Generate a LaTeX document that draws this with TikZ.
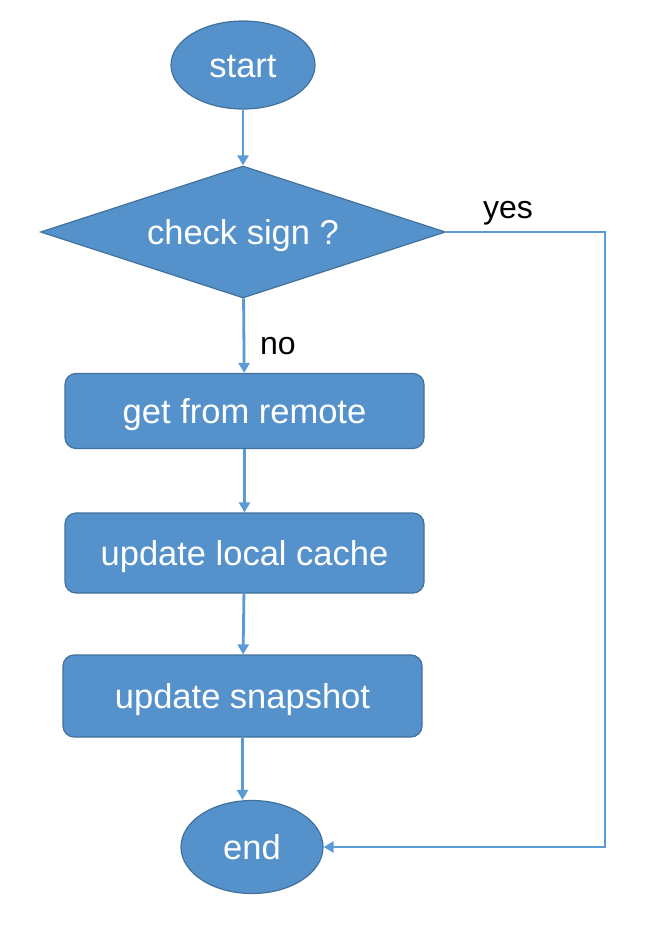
\documentclass[tikz,border=0pt]{standalone}
\usepackage{fontspec}
\setmainfont{Liberation Sans}
\usetikzlibrary{shapes.geometric,arrows.meta}
\definecolor{boxfill}{HTML}{5592CC}
\definecolor{boxline}{HTML}{41719C}
\definecolor{arrowc}{HTML}{5B9BD5}
\tikzset{
  base/.style={fill=boxfill, draw=boxline, line width=1.2pt, text=white, font=\fontsize{34.5}{37}\selectfont, inner sep=0pt, text height=25pt, text depth=0pt},
  oval/.style={base, ellipse},
  decide/.style={base, diamond, aspect=3.07},
  stepbox/.style={base, rectangle, rounded corners=11pt, minimum width=359pt},
  conn/.style={draw=arrowc, line width=2.8pt, -{Triangle[length=10pt,width=11pt]}},
  lbl/.style={text=black, font=\fontsize{32}{34}\selectfont, inner sep=0pt},
}
\begin{document}
\begin{tikzpicture}[x=1pt,y=-1pt]
\useasboundingbox (0,0) rectangle (651,926);
\node[oval, minimum width=144pt, minimum height=88pt] (start) at (243,65) {start};
\node[decide, minimum width=405pt, minimum height=132pt] (dec) at (243,232) {check sign ?};
\node[stepbox, minimum height=75pt] (r1) at (244.5,411) {get from remote};
\node[stepbox, minimum height=80pt] (r2) at (244.5,553) {update local cache};
\node[stepbox, minimum height=82pt] (r3) at (242.5,696) {update snapshot};
\node[oval, minimum width=142pt, minimum height=93pt] (end) at (252,847) {end};
\node[lbl] (yes) at (508,213) {yes};
\node[lbl] (no) at (278,346) {no};
\coordinate (c) at (605,232);
\draw[conn] (start) -- (dec);
\draw[conn] (dec) -- (r1);
\draw[conn] (r1) -- (r2);
\draw[conn] (r2) -- (r3);
\draw[conn] (r3.south) -- (r3.south |- end.north);
\draw[conn] (dec.east) -- (c) |- (end.east);
\end{tikzpicture}
\end{document}
